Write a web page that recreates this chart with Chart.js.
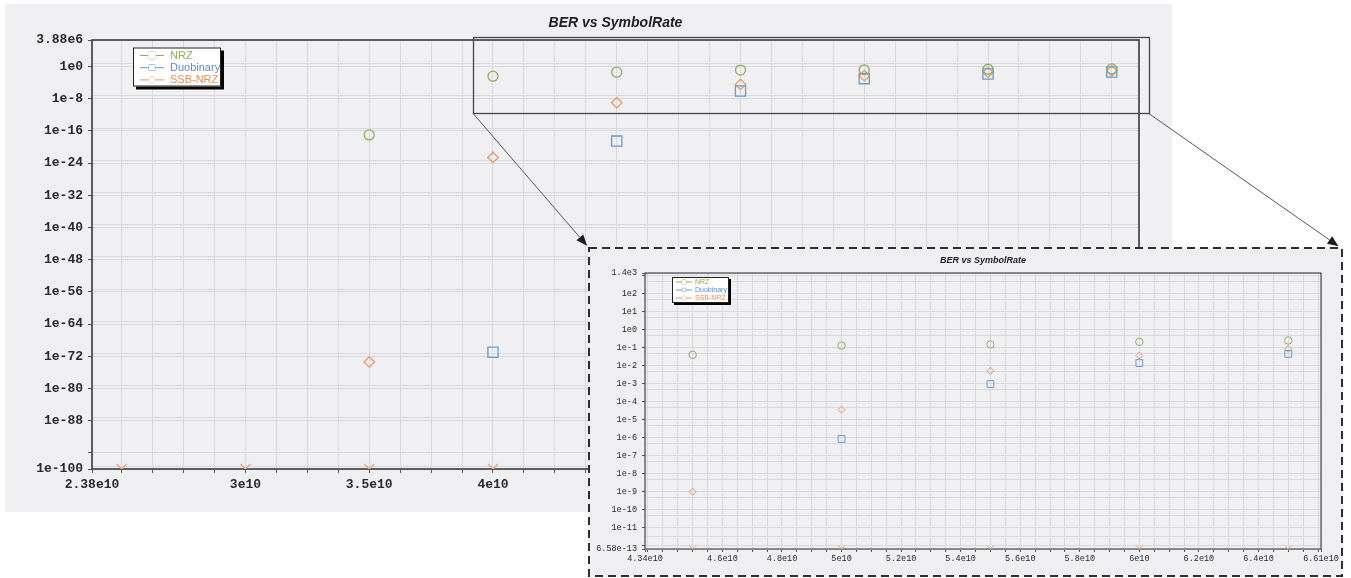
<!DOCTYPE html>
<html>
<head>
<meta charset="utf-8">
<title>BER vs SymbolRate</title>
<script src="https://cdn.jsdelivr.net/npm/chart.js@4.4.1/dist/chart.umd.min.js"></script>
<style>
  html, body { margin: 0; padding: 0; background: #ffffff; width: 1351px; height: 578px; overflow: hidden; }
  #mainPanel { position: absolute; left: 5px; top: 4px; width: 1167px; height: 508px; background: #f0eff2; }
  #zoomPanel { position: absolute; left: 588px; top: 247px; width: 755px; height: 330px; background: #f0eff2; }
  canvas { display: block; }
  #overlay { position: absolute; left: 0; top: 0; pointer-events: none; }
</style>
</head>
<body>
<div id="mainPanel"><canvas id="mainChart" width="1167" height="508"></canvas></div>
<div id="zoomPanel"><canvas id="zoomChart" width="755" height="330"></canvas></div>
<canvas id="overlay" width="1351" height="578"></canvas>
<script>
// ---- measured BER per modulation format vs symbol rate (Baud) ----
const symbolRates   = [2.5e10, 3.0e10, 3.5e10, 4.0e10, 4.5e10, 5.0e10, 5.5e10, 6.0e10, 6.5e10];
const berNRZ        = [null,   null,   1e-17,  4e-3,   4e-2,   1.3e-1, 1.5e-1, 2.1e-1, 2.5e-1];
const berDuobinary  = [null,   null,   null,   1e-71,  3e-19,  8.5e-7, 9.5e-4, 1.4e-2, 4.5e-2];
const berSSBNRZ     = [null,   null,   4e-74,  2.5e-23, 1e-9,  3.6e-5, 5.2e-3, 3.6e-2, 8.5e-2];
// symbol rates where a zero BER was counted (drawn on the floor of the axis)
const zeroBerRates  = [2.5e10, 3.0e10, 3.5e10, 4.0e10, 4.5e10, 5.0e10, 5.5e10, 6.0e10, 6.5e10];

// ---- axis ticks ----
const mainXTicks = [2.38e10, 3e10, 3.5e10, 4e10, 4.5e10, 5e10, 5.5e10, 6e10, 6.5e10, 6.61e10];
const mainXMinorStep = 1.25e9;
const mainYTicks = [1e-100, 1e-88, 1e-80, 1e-72, 1e-64, 1e-56, 1e-48, 1e-40, 1e-32, 1e-24, 1e-16, 1e-8, 1e0, 3.88e6];
const mainYUnlabeled = [1e-96];

const zoomXTicks = [4.34e10, 4.6e10, 4.8e10, 5e10, 5.2e10, 5.4e10, 5.6e10, 5.8e10, 6e10, 6.2e10, 6.4e10, 6.61e10];
const zoomXMinorStep = 5e8;
const zoomYTicks = [6.58e-13, 1e-11, 1e-10, 1e-9, 1e-8, 1e-7, 1e-6, 1e-5, 1e-4, 1e-3, 1e-2, 1e-1, 1e0, 1e1, 1e2, 1.4e3];
const zoomYUnlabeled = [1e-12, 1e3];

// region of the main plot that the inset magnifies (data coordinates)
const zoomWindow = { xFrom: 3.92e10, xTo: 6.65e10, yFrom: 2e-12, yTo: 2e7 };

const COLORS = {
  nrz: '#8fae62', nrzText: '#86b24f',
  duo: '#6b9bcb', duoText: '#5b8dca',
  ssb: '#e69a6c', ssbText: '#ec8d58',
  zero: '#e3a77c',
  grid: '#dad9df', axis: '#3c3c3c', tick: '#2a2a2a'
};

function fmtExp(v) { return v.toExponential().replace('+', ''); }
function pts(xs, ys) {
  const out = [];
  xs.forEach((x, i) => { if (ys[i] !== null) out.push({ x: x, y: ys[i] }); });
  return out;
}

function xTickBuilder(major, step) {
  return function (scale) {
    const t = major.map(v => ({ value: v, kind: 'major' }));
    const first = Math.ceil(scale.min / step);
    for (let k = first; k * step <= scale.max; k++) {
      const v = k * step;
      if (!major.some(m => Math.abs(m - v) < 1)) t.push({ value: v, kind: 'minor' });
    }
    t.sort((a, b) => a.value - b.value);
    scale.ticks = t;
  };
}
function yTickBuilder(labeled, unlabeled, max) {
  return function (scale) {
    const t = [];
    labeled.forEach(v => {
      t.push({ value: v, kind: 'major' });
      if (v * 5 < max) t.push({ value: v * 5, kind: 'grid' });
    });
    unlabeled.forEach(v => t.push({ value: v, kind: 'minor' }));
    t.sort((a, b) => a.value - b.value);
    scale.ticks = t;
  };
}

// title, frame and legend drawn the way the plotting tool shows them
const framePlugin = {
  id: 'frame',
  beforeDatasetsDraw(chart, args, opts) {
    const a = chart.chartArea, ctx = chart.ctx;
    ctx.save();
    ctx.strokeStyle = COLORS.axis;
    ctx.lineWidth = opts.width;
    ctx.strokeRect(a.left, a.top, a.right - a.left, a.bottom - a.top);
    ctx.restore();
  },
  afterDraw(chart, args, opts) {
    const a = chart.chartArea, ctx = chart.ctx;
    ctx.save();
    // title
    ctx.fillStyle = '#1e1e1e';
    ctx.font = opts.titleFont;
    ctx.textAlign = 'center';
    ctx.textBaseline = 'middle';
    ctx.fillText(opts.title, (a.left + a.right) / 2, opts.titleY);
    // legend
    const L = opts.legend;
    const bx = a.left + L.x, by = a.top + L.y;
    ctx.fillStyle = '#000000';
    ctx.fillRect(bx + L.shadow, by + L.shadow, L.w, L.h);
    ctx.fillStyle = '#ffffff';
    ctx.fillRect(bx, by, L.w, L.h);
    ctx.strokeStyle = '#222222';
    ctx.lineWidth = 1;
    ctx.strokeRect(bx + 0.5, by + 0.5, L.w - 1, L.h - 1);
    ctx.font = L.font;
    ctx.textAlign = 'left';
    chart.data.datasets.filter(d => !d.hideInLegend).forEach((d, i) => {
      const y = by + L.rowStart + i * L.rowStep;
      ctx.strokeStyle = d.borderColor;
      ctx.lineWidth = 1;
      ctx.beginPath();
      ctx.moveTo(bx + L.lineX0, y);
      ctx.lineTo(bx + L.lineX1, y);
      ctx.stroke();
      ctx.fillStyle = '#ffffff';
      Chart.helpers.drawPoint(ctx, { pointStyle: d.pointStyle, radius: L.markerR, borderWidth: 1.2, rotation: 0 },
        bx + (L.lineX0 + L.lineX1) / 2, y);
      ctx.fill();
      ctx.fillStyle = d.textColor;
      ctx.fillText(d.label, bx + L.textX, y + 0.5);
    });
    ctx.restore();
  }
};

function buildDatasets(r) {
  return [
    { label: 'NRZ', data: pts(symbolRates, berNRZ), pointStyle: 'circle', radius: r.circle,
      borderColor: COLORS.nrz, textColor: COLORS.nrzText, backgroundColor: 'transparent', borderWidth: r.lw },
    { label: 'Duobinary', data: pts(symbolRates, berDuobinary), pointStyle: 'rect', radius: r.rect,
      borderColor: COLORS.duo, textColor: COLORS.duoText, backgroundColor: 'transparent', borderWidth: r.lw },
    { label: 'SSB-NRZ', data: pts(symbolRates, berSSBNRZ), pointStyle: 'rectRot', radius: r.diamond,
      borderColor: COLORS.ssb, textColor: COLORS.ssbText, backgroundColor: 'transparent', borderWidth: r.lw },
    { label: 'zero BER', hideInLegend: true, data: zeroBerRates.map(x => ({ x: x, y: r.floor })),
      pointStyle: 'crossRot', radius: r.cross, borderColor: COLORS.zero, backgroundColor: 'transparent',
      borderWidth: r.lw, clip: 0 }
  ];
}

function buildOptions(cfg) {
  const tickColor = ctx => (ctx.tick && ctx.tick.kind === 'grid') ? 'rgba(0,0,0,0)' : '#555555';
  return {
    responsive: false,
    animation: false,
    events: [],
    layout: { padding: cfg.padding },
    plugins: {
      legend: { display: false },
      tooltip: { enabled: false },
      frame: cfg.frame
    },
    scales: {
      x: {
        type: 'linear', min: cfg.xMin, max: cfg.xMax,
        afterBuildTicks: xTickBuilder(cfg.xTicks, cfg.xStep),
        afterFit: s => { s.height = cfg.xHeight; },
        border: { display: false },
        grid: { color: COLORS.grid, lineWidth: 1, tickLength: cfg.tickLen, tickColor: tickColor, tickWidth: 1 },
        ticks: {
          autoSkip: false, maxRotation: 0, minRotation: 0, padding: cfg.xPad,
          color: COLORS.tick, font: cfg.tickFont,
          callback: (v, i, t) => t[i].kind === 'major' ? fmtExp(v) : ''
        }
      },
      y: {
        type: 'logarithmic', min: cfg.yMin, max: cfg.yMax,
        afterBuildTicks: yTickBuilder(cfg.yTicks, cfg.yUnlabeled, cfg.yMax),
        afterFit: s => { s.width = cfg.yWidth; },
        border: { display: false },
        grid: { color: COLORS.grid, lineWidth: 1, tickLength: cfg.tickLen, tickColor: tickColor, tickWidth: 1 },
        ticks: {
          autoSkip: false, padding: cfg.yPad,
          color: COLORS.tick, font: cfg.tickFont,
          callback: (v, i, t) => t[i].kind === 'major' ? fmtExp(v) : ''
        }
      }
    }
  };
}

const mainYMin = mainYTicks[0], mainYMax = mainYTicks[mainYTicks.length - 1];
const zoomYMin = zoomYTicks[0], zoomYMax = zoomYTicks[zoomYTicks.length - 1];

const mainChart = new Chart(document.getElementById('mainChart'), {
  type: 'scatter',
  data: { datasets: buildDatasets({ circle: 5, rect: 7.2, diamond: 5.2, cross: 7, lw: 1.3, floor: mainYMin }) },
  options: buildOptions({
    padding: { top: 36, right: 33, left: 0, bottom: 0 },
    xMin: mainXTicks[0], xMax: mainXTicks[mainXTicks.length - 1], xTicks: mainXTicks, xStep: mainXMinorStep,
    yMin: mainYMin, yMax: mainYMax, yTicks: mainYTicks, yUnlabeled: mainYUnlabeled,
    xHeight: 43, yWidth: 87, tickLen: 4, xPad: 4, yPad: 5,
    tickFont: { family: '"Liberation Mono", "DejaVu Sans Mono", monospace', size: 13, weight: 'bold' },
    frame: {
      width: 1.6, title: 'BER vs SymbolRate', titleY: 19.5,
      titleFont: 'italic bold 14px "Liberation Sans", Arial, sans-serif',
      legend: { x: 41, y: 7.5, w: 88, h: 39, shadow: 3, rowStart: 8, rowStep: 12.2,
        lineX0: 7, lineX1: 31, textX: 37, markerR: 4, font: '11px "Liberation Sans", Arial, sans-serif' }
    }
  }),
  plugins: [framePlugin]
});

const zoomChart = new Chart(document.getElementById('zoomChart'), {
  type: 'scatter',
  data: { datasets: buildDatasets({ circle: 3.7, rect: 4.8, diamond: 3.5, cross: 5, lw: 1, floor: zoomYMin }) },
  options: buildOptions({
    padding: { top: 26, right: 22, left: 0, bottom: 0 },
    xMin: zoomXTicks[0], xMax: zoomXTicks[zoomXTicks.length - 1], xTicks: zoomXTicks, xStep: zoomXMinorStep,
    yMin: zoomYMin, yMax: zoomYMax, yTicks: zoomYTicks, yUnlabeled: zoomYUnlabeled,
    xHeight: 28, yWidth: 57, tickLen: 3, xPad: 2, yPad: 5,
    tickFont: { family: '"Liberation Mono", "DejaVu Sans Mono", monospace', size: 8.5 },
    frame: {
      width: 1.1, title: 'BER vs SymbolRate', titleY: 14,
      titleFont: 'italic bold 9px "Liberation Sans", Arial, sans-serif',
      legend: { x: 27, y: 4, w: 57, h: 26, shadow: 2, rowStart: 5, rowStep: 8,
        lineX0: 4, lineX1: 20, textX: 23, markerR: 2.3, font: '7px "Liberation Sans", Arial, sans-serif' }
    }
  }),
  plugins: [framePlugin]
});

// ---- magnification frame, connecting arrows and inset border ----
(function drawOverlay() {
  const ctx = document.getElementById('overlay').getContext('2d');
  const mainBox = document.getElementById('mainPanel');
  const zoomBox = document.getElementById('zoomPanel');
  const ox = mainBox.offsetLeft, oy = mainBox.offsetTop;
  const sx = mainChart.scales.x, sy = mainChart.scales.y;
  const rx0 = ox + sx.getPixelForValue(zoomWindow.xFrom);
  const rx1 = ox + sx.getPixelForValue(zoomWindow.xTo);
  const ry0 = oy + sy.getPixelForValue(zoomWindow.yTo);
  const ry1 = oy + sy.getPixelForValue(zoomWindow.yFrom);

  ctx.strokeStyle = '#474747';
  ctx.lineWidth = 1.3;
  ctx.strokeRect(Math.round(rx0) + 0.5, Math.round(ry0) + 0.5, Math.round(rx1 - rx0), Math.round(ry1 - ry0));

  const zl = zoomBox.offsetLeft, zt = zoomBox.offsetTop;
  const zr = zl + zoomBox.offsetWidth, zb = zt + zoomBox.offsetHeight;

  function arrow(x0, y0, x1, y1) {
    const ang = Math.atan2(y1 - y0, x1 - x0);
    const tipX = x1 - 3 * Math.cos(ang), tipY = y1 - 3 * Math.sin(ang);
    const len = 11, half = 4.5;
    const bx = tipX - len * Math.cos(ang), by = tipY - len * Math.sin(ang);
    ctx.strokeStyle = '#555555';
    ctx.lineWidth = 1;
    ctx.beginPath();
    ctx.moveTo(x0, y0);
    ctx.lineTo(bx, by);
    ctx.stroke();
    ctx.fillStyle = '#1e1e1e';
    ctx.beginPath();
    ctx.moveTo(tipX, tipY);
    ctx.lineTo(bx + half * Math.sin(ang), by - half * Math.cos(ang));
    ctx.lineTo(bx - half * Math.sin(ang), by + half * Math.cos(ang));
    ctx.closePath();
    ctx.fill();
  }
  arrow(rx0, ry1, zl + 1, zt + 1);
  arrow(rx1, ry1, zr - 2, zt + 1);

  ctx.strokeStyle = '#2f2f2f';
  ctx.lineWidth = 2;
  ctx.setLineDash([8, 5]);
  ctx.strokeRect(zl + 1, zt + 1, zr - zl - 2, zb - zt - 2);
  ctx.setLineDash([]);
})();
</script>
</body>
</html>
